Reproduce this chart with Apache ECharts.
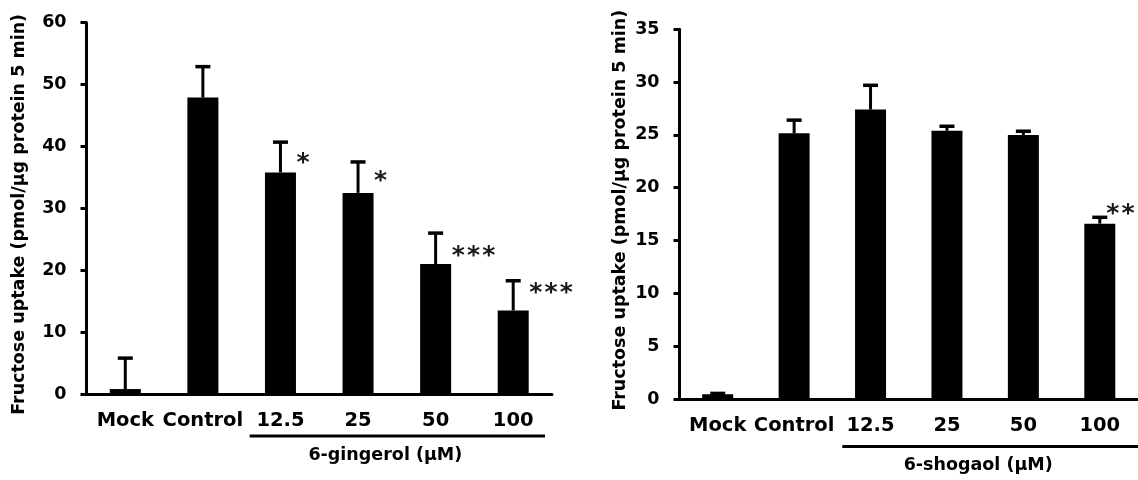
<!DOCTYPE html>
<html><head><meta charset="utf-8">
<script src="https://cdn.jsdelivr.net/npm/echarts@6/dist/echarts.min.js"></script>
<style>html,body{margin:0;padding:0;background:#fff}#c{width:1138px;height:480px}</style>
</head><body><div id="c"></div>
<script>
// ---- data ----
const categories = ['Mock', 'Control', '12.5', '25', '50', '100'];

const gingerolMean = [0.8, 47.9, 35.8, 32.5, 21.0, 13.5];
const gingerolSD   = [5.0, 5.0, 4.9, 5.0, 5.0, 4.8];
const gingerolSig  = ['', '', '*', '*', '***', '***'];
const gingerolSigAt = [null, null, 38.2, 35.3, 23.1, 17.2];
const gingerolTicks = [0, 10, 20, 30, 40, 50, 60];

const shogaolMean = [0.45, 25.15, 27.4, 25.4, 25.0, 16.6];
const shogaolSD   = [0.08, 1.25, 2.3, 0.42, 0.35, 0.6];
const shogaolSig  = ['', '', '', '', '', '**'];
const shogaolSigAt = [null, null, null, null, null, 18.0];
const shogaolTicks = [0, 5, 10, 15, 20, 25, 30, 35];

const yAxisTitle = 'Fructose uptake (pmol/µg protein 5 min)';
const groupLabels = ['6-gingerol (µM)', '6-shogaol (µM)'];
const groupFrom = '12.5';
const groupTo = '100';

// ---- styling ----
const FONT = '"DejaVu Sans", "Liberation Sans", Arial, sans-serif';

function errorSeries(idx, mean, sd) {
  return {
    type: 'custom', xAxisIndex: idx, yAxisIndex: idx, z: 3,
    data: categories.map((c, i) => [i, mean[i], sd[i]]),
    encode: { x: 0, y: 1 },
    renderItem: function (params, api) {
      const i = api.value(0);
      const base = api.coord([i, api.value(1)]);
      const top = api.coord([i, api.value(1) + api.value(2)]);
      return {
        type: 'group', children: [
          { type: 'line', shape: { x1: base[0], y1: base[1], x2: top[0], y2: top[1] }, style: { stroke: '#000', lineWidth: 3 } },
          { type: 'line', shape: { x1: top[0] - 7.5, y1: top[1], x2: top[0] + 7.5, y2: top[1] }, style: { stroke: '#000', lineWidth: 3.5 } }
        ]
      };
    }
  };
}

function sigSeries(idx, sig, at, dx) {
  const data = [];
  categories.forEach((c, i) => { if (sig[i]) data.push([i, at[i]]); });
  return {
    type: 'custom', xAxisIndex: idx, yAxisIndex: idx, z: 4, clip: false,
    data: data, encode: { x: 0, y: 1 },
    renderItem: function (params, api) {
      const i = api.value(0);
      const p = api.coord([i, api.value(1)]);
      const chars = sig[i].split('');
      return {
        type: 'group',
        children: chars.map(function (ch, j) {
          return {
            type: 'text', x: p[0] + dx + j * 15.3, y: p[1] + 5.5,
            style: { text: ch, font: 'bold 25px "DejaVu Sans"', fill: '#1a1a1a', align: 'left', verticalAlign: 'middle' }
          };
        })
      };
    }
  };
}

function yAxis(idx, ticks, gap, pad) {
  return {
    type: 'value', gridIndex: idx,
    min: ticks[0], max: ticks[ticks.length - 1], interval: ticks[1] - ticks[0],
    name: yAxisTitle, nameLocation: 'middle', nameRotate: 90, nameGap: gap,
    nameTextStyle: { fontFamily: FONT, fontWeight: 'bold', fontSize: 17.5, color: '#000', padding: pad },
    axisLine: { show: true, lineStyle: { color: '#000', width: 3 } },
    axisTick: { show: true, length: 6, inside: false, lineStyle: { color: '#000', width: 3 } },
    axisLabel: { fontFamily: FONT, fontWeight: 'bold', fontSize: 17.5, color: '#000', margin: 20 },
    splitLine: { show: false }
  };
}

function xAxis(idx) {
  return {
    type: 'category', gridIndex: idx, data: categories,
    axisLine: { show: true, lineStyle: { color: '#000', width: 3 } },
    axisTick: { show: false },
    axisLabel: { fontFamily: FONT, fontWeight: 'bold', fontSize: 19.5, color: '#000', margin: 17, interval: 0 }
  };
}

const chart = echarts.init(document.getElementById('c'), null, { renderer: 'canvas' });
const option = {
  animation: false,
  backgroundColor: '#fff',
  grid: [
    { left: 86.5, top: 22.7, width: 465.5, height: 371.3 },
    { left: 679.5, top: 29.3, width: 460, height: 369.7 }
  ],
  xAxis: [xAxis(0), xAxis(1)],
  yAxis: [yAxis(0, gingerolTicks, 58, [0, 12, 0, 0]), yAxis(1, shogaolTicks, 50, [0, 0, 0, 8])],
  series: [
    { type: 'bar', xAxisIndex: 0, yAxisIndex: 0, data: gingerolMean, barWidth: 31, itemStyle: { color: '#000' }, z: 2 },
    { type: 'bar', xAxisIndex: 1, yAxisIndex: 1, data: shogaolMean, barWidth: 31, itemStyle: { color: '#000' }, z: 2 },
    errorSeries(0, gingerolMean, gingerolSD),
    errorSeries(1, shogaolMean, shogaolSD),
    sigSeries(0, gingerolSig, gingerolSigAt, 16),
    sigSeries(1, shogaolSig, shogaolSigAt, 6.5)
  ]
};
chart.setOption(option);

// group brackets under the dose categories, placed from the axis scale
const bracketSettings = [
  { insetL: 8, insetR: 7, dy: 42 },
  { insetL: 10, insetR: 0, dy: 47.5 }
];
const graphics = [];
[0, 1].forEach(function (k) {
  const a = chart.convertToPixel({ xAxisIndex: k }, categories[0]);
  const b = chart.convertToPixel({ xAxisIndex: k }, categories[categories.length - 1]);
  const bw = (b - a) / (categories.length - 1);
  const from = chart.convertToPixel({ xAxisIndex: k }, groupFrom) - bw / 2;
  const to = chart.convertToPixel({ xAxisIndex: k }, groupTo) + bw / 2;
  const y0 = chart.convertToPixel({ yAxisIndex: k }, 0);
  const s = bracketSettings[k];
  const x1 = from + s.insetL, x2 = to - s.insetR, y = y0 + s.dy;
  graphics.push({ type: 'line', shape: { x1: x1, y1: y, x2: x2, y2: y }, style: { stroke: '#000', lineWidth: 3 } });
  graphics.push({ type: 'text', x: (x1 + x2) / 2 - 12, y: y + 19,
    style: { text: groupLabels[k], font: 'bold 17.5px ' + FONT, fill: '#000', align: 'center', verticalAlign: 'middle' } });
});
chart.setOption({ graphic: graphics });
</script>
</body></html>
